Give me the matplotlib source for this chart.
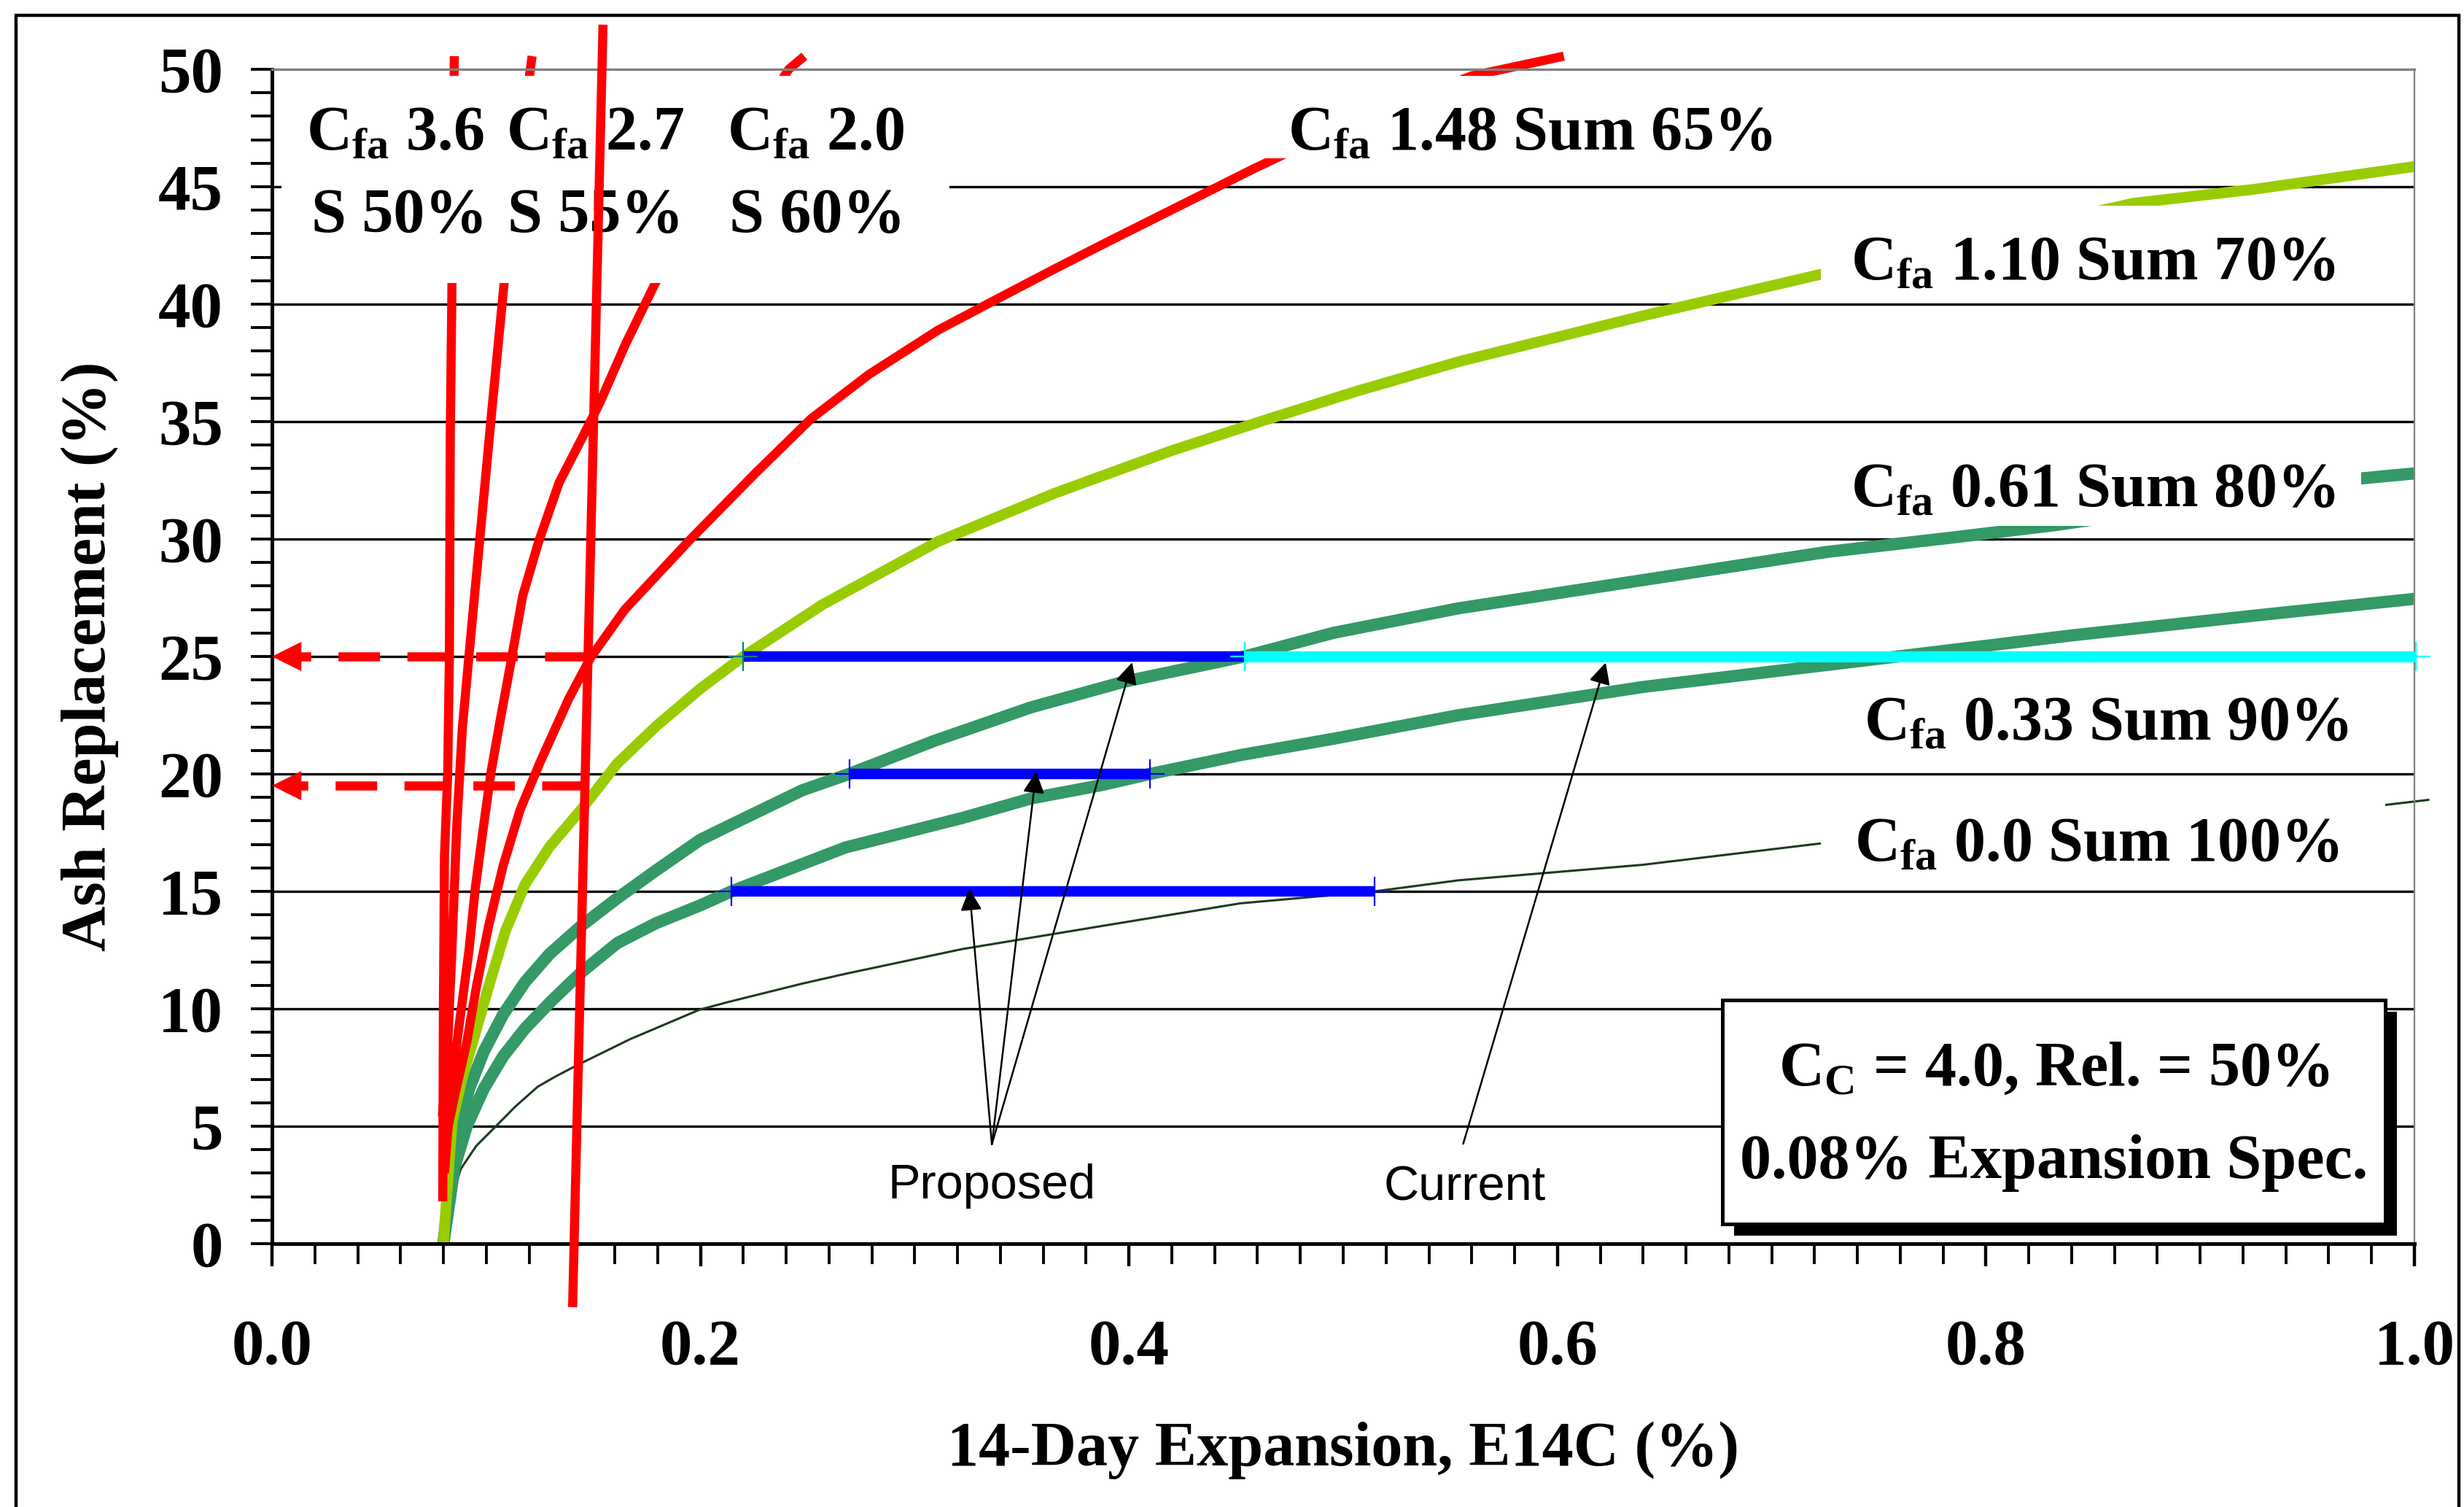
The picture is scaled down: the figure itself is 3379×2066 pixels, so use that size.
import numpy as np
import matplotlib
matplotlib.use('Agg')
import matplotlib.pyplot as plt
from matplotlib.patches import Rectangle
from matplotlib.ticker import MultipleLocator, FormatStrFormatter

plt.rcParams['font.family'] = 'Liberation Serif'
plt.rcParams['font.weight'] = 'bold'
plt.rcParams['mathtext.fontset'] = 'custom'
plt.rcParams['mathtext.rm'] = 'Liberation Serif:bold'
plt.rcParams['mathtext.it'] = 'Liberation Serif:bold'
plt.rcParams['mathtext.bf'] = 'Liberation Serif:bold'
plt.rcParams['mathtext.default'] = 'rm'
plt.rcParams['lines.scale_dashes'] = False
plt.rcParams['lines.solid_capstyle'] = 'butt'

# ---- curves: E14C (%) vs ash replacement (%) ----
cfa36_x = [0.0797, 0.0800, 0.0805, 0.0820, 0.0828, 0.0832, 0.0840, 0.0851]
cfa36_y = [1.8, 10.0, 16.5, 20.0, 25.0, 34.3, 40.9, 50.56]

cfa27_x = [0.0795, 0.0817, 0.0838, 0.0862, 0.0888, 0.0919, 0.0970, 0.1028, 0.1083, 0.1140, 0.1214]
cfa27_y = [5.4, 7.9, 12.1, 17.7, 21.9, 25.0, 30.0, 35.66, 40.86, 45.5, 50.56]

cfa20_x = [0.0805, 0.0835, 0.0862, 0.0920, 0.0949, 0.0983, 0.1022, 0.1068, 0.1119, 0.1170, 0.1245,
           0.1340, 0.1447, 0.1530, 0.1650, 0.1787, 0.2085, 0.2412, 0.2485]
cfa20_y = [3.0, 6.5, 8.5, 12.53, 15.15, 17.48, 20.06, 22.43, 24.95, 27.58, 29.9, 32.4, 34.3, 35.8,
           38.3, 40.86, 45.5, 50.0, 50.56]

cfa148_x = [0.0800, 0.0850, 0.0909, 0.0954, 0.1011, 0.1079, 0.1158, 0.1249, 0.1385, 0.1487, 0.1646,
            0.1950, 0.2256, 0.2516, 0.2785, 0.3110, 0.3349, 0.3653, 0.3900, 0.4130, 0.4268, 0.4590,
            0.5100, 0.5600, 0.6030]
cfa148_y = [4.0, 6.2, 8.57, 10.94, 13.52, 16.1, 18.47, 20.45, 23.2, 24.95, 26.99, 29.96, 32.8, 35.12,
            37.0, 38.9, 40.05, 41.5, 42.65, 43.7, 44.33, 45.8, 48.0, 49.72, 50.56]

cfa110_x = [0.0800, 0.0820, 0.0841, 0.0886, 0.0943, 0.1011, 0.1090, 0.1181, 0.1295, 0.1442, 0.1612,
            0.1794, 0.1998, 0.2200, 0.2568, 0.3110, 0.3653, 0.4195, 0.4630, 0.5065, 0.5538, 0.6397,
            0.7228, 0.8000, 0.8690, 0.9260, 1.0007]
cfa110_y = [0.0, 2.6, 5.2, 6.99, 8.77, 10.94, 13.32, 15.3, 16.89, 18.47, 20.45, 22.04, 23.62, 25.0,
            27.2, 29.9, 31.95, 33.75, 35.05, 36.3, 37.55, 39.5, 41.27, 42.9, 44.3, 44.9, 45.87]

cfa061_x = [0.0800, 0.0830, 0.0863, 0.0920, 0.0988, 0.1079, 0.1181, 0.1295, 0.1442, 0.1612, 0.1794,
            0.1998, 0.2134, 0.2474, 0.2694, 0.3089, 0.3545, 0.3979, 0.4539, 0.4956, 0.5538, 0.6397,
            0.7257, 0.7830, 0.8330, 0.9000, 0.9750, 1.0007]
cfa061_y = [0.0, 2.5, 4.6, 6.59, 8.17, 9.76, 11.14, 12.33, 13.52, 14.71, 15.9, 17.19, 17.8, 19.3,
            20.0, 21.4, 22.84, 23.93, 25.0, 26.01, 27.05, 28.25, 29.45, 30.05, 30.6, 31.5, 32.58, 32.8]

cfa033_x = [0.0800, 0.0852, 0.0909, 0.0988, 0.1079, 0.1181, 0.1306, 0.1442, 0.1612, 0.1794, 0.1998,
            0.2144, 0.2677, 0.3220, 0.3545, 0.3870, 0.4099, 0.4520, 0.4956, 0.5538, 0.6397, 0.7543,
            0.8403, 0.9263, 1.0007]
cfa033_y = [0.0, 3.26, 5.0, 6.59, 7.98, 9.16, 10.35, 11.54, 12.8, 13.65, 14.4, 15.0, 16.87, 18.12,
            18.96, 19.52, 20.0, 20.8, 21.5, 22.5, 23.7, 24.95, 25.9, 26.75, 27.46]

cfa00_x = [0.0800, 0.0823, 0.0881, 0.0953, 0.1045, 0.1136, 0.1240, 0.1318, 0.1420, 0.1670, 0.1995,
           0.2134, 0.2474, 0.2677, 0.3220, 0.3870, 0.4520, 0.5147, 0.5538, 0.6397, 0.7228, 0.8500,
           0.9864, 1.0070]
cfa00_y = [0.0, 1.5, 3.18, 4.16, 5.0, 5.84, 6.68, 7.09, 7.58, 8.7, 9.96, 10.3, 11.07, 11.49, 12.54,
           13.52, 14.49, 15.0, 15.47, 16.13, 17.04, 17.9, 18.68, 18.9]

# straight red line running through the whole plot
spec_x = [0.1403, 0.1545]
spec_y = [-2.7, 51.9]

# proposed (blue) and current (cyan) limits
proposed_y = [25, 20, 15]
proposed_x0 = [0.2200, 0.2694, 0.2144]
proposed_x1 = [0.4539, 0.4099, 0.5147]
current_y = 25
current_x = [0.4539, 1.0007]

# red dashed arrows back to the y axis
dash_y = [25.0, 19.5]
dash_x = [0.1466, 0.1455]

# label arrows
proposed_tail = (0.336, 4.23)
proposed_tips = [(0.3255, 15.1), (0.3567, 20.1), (0.4015, 24.75)]
current_tail = (0.556, 4.25)
current_tip = (0.6225, 24.74)

curve_labels = ['C$_{fa}$ 3.6', 'C$_{fa}$ 2.7', 'C$_{fa}$ 2.0', 'C$_{fa}$ 1.48 Sum 65%',
                'C$_{fa}$ 1.10 Sum 70%', 'C$_{fa}$ 0.61 Sum 80%', 'C$_{fa}$ 0.33 Sum 90%',
                'C$_{fa}$ 0.0 Sum 100%']
label_xy = [(0.016, 46.58), (0.1093, 46.58), (0.2124, 46.58), (0.4741, 46.58),
            (0.737, 41.03), (0.737, 31.38), (0.7429, 21.43), (0.7386, 16.28)]
sum_labels = ['S 50%', 'S 55%', 'S 60%']
sum_xy = [(0.0184, 43.07), (0.1100, 43.07), (0.2134, 43.07)]

RED = '#ff0000'
YGREEN = '#99cc00'
SEAGREEN = '#339966'

fig = plt.figure(figsize=(16.9, 10.33), dpi=200)
ax = fig.add_axes([0.11036, 0.17474, 0.86923, 0.77928])
ax.set_xlim(0, 1)
ax.set_ylim(0, 50)

# grid lines (top one is the gray frame)
ax.hlines(np.arange(5, 50, 5), 0, 1, colors='black', lw=1.2, zorder=0.5)

ax.plot(cfa00_x, cfa00_y, color='#1e3a1e', lw=1.1, zorder=2, clip_on=False)
ax.plot(cfa033_x, cfa033_y, color=SEAGREEN, lw=6, zorder=2.1)
ax.plot(cfa061_x, cfa061_y, color=SEAGREEN, lw=6, zorder=2.2)
ax.plot(cfa110_x, cfa110_y, color=YGREEN, lw=5.3, zorder=2.3)
for xs, ys in [(cfa148_x, cfa148_y), (cfa20_x, cfa20_y), (cfa27_x, cfa27_y), (cfa36_x, cfa36_y)]:
    ax.plot(xs, ys, color=RED, lw=4.5, zorder=2.4, clip_on=False)

# proposed / current ranges
for i in range(3):
    mec = '#008080' if i == 0 else 'blue'
    ax.plot([proposed_x0[i], proposed_x1[i]], [proposed_y[i]] * 2, color='blue', lw=5.2,
            marker='+', ms=14.4, mew=0.8, mec=mec, zorder=3)
ax.plot(current_x, [current_y] * 2, color='cyan', lw=5.5, marker='+', ms=14.4, mew=0.8,
        zorder=3.1, clip_on=False)

# dashed red arrows
for xd, yd in zip(dash_x, dash_y):
    ax.plot([xd, 0.0129], [yd, yd], color=RED, lw=4.5, dashes=(20.5, 13.5), zorder=3)
    ax.annotate('', xy=(0, yd), xytext=(0.0129, yd),
                arrowprops=dict(arrowstyle='-|>,head_length=1,head_width=0.5', color=RED,
                                lw=0.5, mutation_scale=13.7, shrinkA=0, shrinkB=0), zorder=3)

# white boxes behind the curve labels
masks = [(0.0044, 40.9, 0.3118, 8.82), (0.459, 46.2, 0.255, 3.52), (0.7228, 40.5, 0.26, 3.7),
         (0.7228, 30.55, 0.2522, 3.2), (0.7228, 15.5, 0.2636, 3.45)]
for mx, my, mw, mh in masks:
    ax.add_patch(Rectangle((mx, my), mw, mh, facecolor='white', edgecolor='none', zorder=4))

for txt, (tx, ty) in zip(curve_labels, label_xy):
    ax.text(tx, ty, txt, fontsize=31, fontweight='bold', ha='left', va='baseline', zorder=5)
for txt, (tx, ty) in zip(sum_labels, sum_xy):
    ax.text(tx, ty, txt, fontsize=31, fontweight='bold', ha='left', va='baseline', zorder=5)

ax.plot(spec_x, spec_y, color=RED, lw=4.5, zorder=6, clip_on=False)

# Proposed / Current arrows
arrow_kw = dict(arrowstyle='-|>,head_length=1,head_width=0.5', color='black', lw=0.9,
                mutation_scale=9, shrinkA=0, shrinkB=0)
for tip in proposed_tips:
    ax.annotate('', xy=tip, xytext=proposed_tail, arrowprops=arrow_kw, zorder=5)
ax.annotate('', xy=current_tip, xytext=current_tail, arrowprops=arrow_kw, zorder=5)
ax.text(0.336, 1.93, 'Proposed', family='Liberation Sans', fontweight='normal', fontsize=24,
        ha='center', va='baseline', zorder=5)
ax.text(0.5568, 1.86, 'Current', family='Liberation Sans', fontweight='normal', fontsize=24,
        ha='center', va='baseline', zorder=5)

# info box with shadow
ax.add_patch(Rectangle((0.6825, 0.34), 0.3094, 9.53, facecolor='black', edgecolor='none', zorder=4.4))
ax.add_patch(Rectangle((0.677, 0.84), 0.3094, 9.53, facecolor='white', edgecolor='black', lw=1.8,
                       zorder=4.5))
ax.text(0.8317, 6.74, 'C$_{C}$ = 4.0, Rel. = 50%', fontsize=31, fontweight='bold', ha='center',
        va='baseline', zorder=5)
ax.text(0.8317, 2.81, '0.08% Expansion Spec.', fontsize=31, fontweight='bold', ha='center',
        va='baseline', zorder=5)

# axes styling
ax.spines['left'].set_linewidth(1.8)
ax.spines['bottom'].set_linewidth(1.8)
ax.spines['top'].set_color('#808080')
ax.spines['top'].set_linewidth(1.2)
ax.spines['right'].set_color('#808080')
ax.spines['right'].set_linewidth(0.8)

ax.set_yticks(np.arange(0, 51, 5))
ax.yaxis.set_minor_locator(MultipleLocator(1))
ax.set_xticks(np.arange(0, 1.01, 0.2))
ax.xaxis.set_minor_locator(MultipleLocator(0.02))
ax.xaxis.set_major_formatter(FormatStrFormatter('%.1f'))
ax.tick_params(axis='y', which='both', direction='out', length=10.4, width=1.4, pad=13.7,
               labelsize=32)
ax.tick_params(axis='x', which='major', direction='out', length=11, width=1.6, pad=26,
               labelsize=32)
ax.tick_params(axis='x', which='minor', direction='out', length=10, width=1.4)
for lab in ax.get_xticklabels() + ax.get_yticklabels():
    lab.set_fontweight('bold')

ax.set_xlabel('14-Day Expansion, E14C (%)', fontsize=31, fontweight='bold', va='center')
ax.xaxis.set_label_coords(0.5, -0.1758)
ax.set_ylabel('Ash Replacement (%)', fontsize=31, fontweight='bold', va='center')
ax.yaxis.set_label_coords(-0.0851, 0.5)

# outer frame
fig.add_artist(Rectangle((0.0065, -0.05), 0.99113, 1.03984, transform=fig.transFigure,
                         fill=False, edgecolor='black', lw=1.6))

fig.savefig('out.png', dpi=200)
